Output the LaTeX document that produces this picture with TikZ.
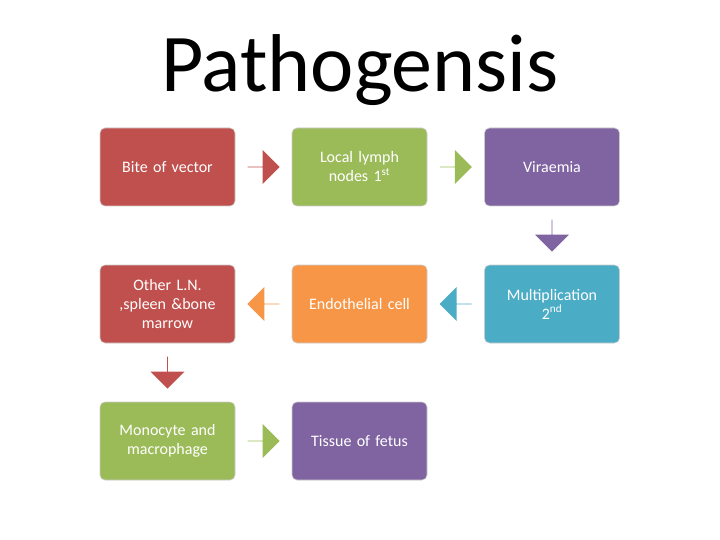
\documentclass[tikz,border=0pt]{standalone}
\usepackage{fontspec}
\setmainfont{Carlito}
\usetikzlibrary{shapes.arrows,calc}
\definecolor{cred}{HTML}{C0504D}
\definecolor{cgreen}{HTML}{9BBB59}
\definecolor{cpurple}{HTML}{8064A2}
\definecolor{corange}{HTML}{F79646}
\definecolor{caqua}{HTML}{4BACC6}
\tikzset{
 box/.style={draw=white!80!black, line width=0.6pt, rounded corners=5pt, minimum width=135pt, minimum height=78pt, text width=125pt, align=center, text=white, font=\fontsize{16}{19}\selectfont},
 barrow/.style={single arrow, draw=none, minimum width=34pt, minimum height=32pt, single arrow head extend=7pt, single arrow tip angle=90, single arrow head indent=0pt, inner sep=0pt}
}
\begin{document}
\begin{tikzpicture}[x=1pt,y=-1pt]
\useasboundingbox (0,0) rectangle (720,540);
\node (title) at (360,70) {\fontsize{82}{90}\selectfont Pathogensis};
\node[box, fill=cred] (b1) at (167.5,167) {Bite of vector};
\node[box, fill=cgreen] (b2) at (359.5,167) {Local lymph\\nodes 1\textsuperscript{st}};
\node[box, fill=cpurple] (b3) at (552,167) {Viraemia};
\node[box, fill=caqua] (b4) at (552,304) {Multiplication\\2\textsuperscript{nd}};
\node[box, fill=corange] (b5) at (359.5,304) {Endothelial cell};
\node[box, fill=cred] (b6) at (167.5,304) {Other L.N.\\,spleen \&bone\\marrow};
\node[box, fill=cgreen] (b7) at (167.5,441) {Monocyte and\\macrophage};
\node[box, fill=cpurple] (b8) at (359.5,441) {Tissue of fetus};
\node[barrow, fill=cred] (a1) at ($(b1.east)!0.5!(b2.west)$) {};
\node[barrow, fill=cgreen] (a2) at ($(b2.east)!0.5!(b3.west)$) {};
\node[barrow, fill=cpurple, shape border rotate=270] (a3) at ($(b3.south)!0.5!(b4.north)$) {};
\node[barrow, fill=caqua, shape border rotate=180] (a4) at ($(b4.west)!0.5!(b5.east)$) {};
\node[barrow, fill=corange, shape border rotate=180] (a5) at ($(b5.west)!0.5!(b6.east)$) {};
\node[barrow, fill=cred, shape border rotate=270] (a6) at ($(b6.south)!0.5!(b7.north)$) {};
\node[barrow, fill=cgreen] (a7) at ($(b7.east)!0.5!(b8.west)$) {};
\end{tikzpicture}
\end{document}
